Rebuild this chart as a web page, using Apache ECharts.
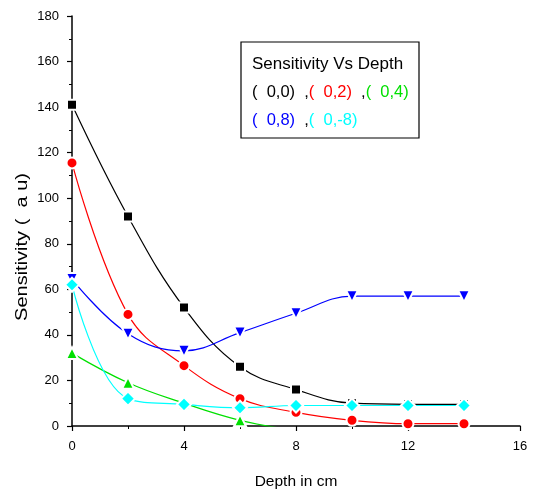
<!DOCTYPE html>
<html><head><meta charset="utf-8">
<script src="https://cdn.jsdelivr.net/npm/echarts@6/dist/echarts.min.js"></script>
<style>html,body{margin:0;padding:0;background:#fff}#c{width:536px;height:490px}</style>
</head><body><div id="c"></div>
<script>
const depth = [0, 2, 4, 6, 8, 10, 12, 14];
const s00 = [141, 92, 52, 26, 16, 10, 9.5, 9.5];
const s02 = [115.5, 49, 26.5, 12, 6, 2.5, 1, 1];
const s04 = [32, 19, 10, 2.5, -2];
const s08 = [64.5, 40.5, 33, 41, 49.5, 57, 57, 57];
const s0m8 = [62, 12, 9.5, 8, 9, 9, 9, 9];
const xTicks = [0, 4, 8, 12, 16];
const yTicks = [0, 20, 40, 60, 80, 100, 120, 140, 160, 180];
const yName = 'Sensitivity (  a u)';
const xName = 'Depth in cm';

const font = 'Liberation Sans, Arial, sans-serif';
function pairs(v){ return v.map((y,i)=>[depth[i], y]); }
const sizes = {rect:10, circle:11, triangle:12, diamond:14};
function ser(name, data, color, symbol, rot){
  return {
    name, type:'line', data: pairs(data), smooth: 0.4, clip: true,
    symbol, symbolSize: sizes[symbol], symbolRotate: rot||0,
    lineStyle:{color, width:1.2},
    itemStyle:{color, borderColor:'#fff', borderWidth:2},
    z: 3
  };
}
const chart = echarts.init(document.getElementById('c'));
chart.setOption({
  animation:false,
  grid:{left:72, right:16, top:16, bottom:64, containLabel:false, outerBoundsMode:'none'},
  xAxis:{type:'value', min:xTicks[0], max:xTicks[xTicks.length-1], interval:4,
    axisLine:{lineStyle:{color:'#000', width:1.5}},
    axisTick:{length:5, lineStyle:{color:'#000', width:1.2}},
    minorTick:{show:true, splitNumber:2, length:3, lineStyle:{color:'#000'}},
    splitLine:{show:false},
    axisLabel:{color:'#000', fontSize:13, fontFamily:font, margin:14},
    name:xName, nameLocation:'middle', nameGap:48,
    nameTextStyle:{color:'#000', fontSize:15.5, fontFamily:font}
  },
  yAxis:{type:'value', min:yTicks[0], max:yTicks[yTicks.length-1], interval:20,
    axisLine:{show:true, lineStyle:{color:'#000', width:1.5}},
    axisTick:{show:true, length:5, lineStyle:{color:'#000', width:1.2}},
    minorTick:{show:true, splitNumber:2, length:3, lineStyle:{color:'#000'}},
    splitLine:{show:false},
    axisLabel:{color:'#000', fontSize:13, fontFamily:font, margin:13}
  },
  series:[
    ser('(0,0)', s00, '#000000', 'rect'),
    ser('(0,2)', s02, '#ff0000', 'circle'),
    ser('(0,4)', s04, '#00e000', 'triangle'),
    ser('(0,8)', s08, '#0000ff', 'triangle', 180),
    ser('(0,-8)', s0m8, '#00ffff', 'diamond')
  ],
  graphic:[
    {type:'text', x:23, y:247, rotation:Math.PI/2, scaleX:1.25, scaleY:1, z:11,
      style:{text:yName, fill:'#000', font:'16px '+font, align:'center', verticalAlign:'middle'}},
    {type:'rect', shape:{x:241, y:42, width:178, height:96}, style:{fill:'#fff', stroke:'#000', lineWidth:1.2}, z:10},
    {type:'text', x:252, y:56, z:11, style:{text:'Sensitivity Vs Depth', fill:'#000', font:'17px '+font}},
    {type:'text', x:252, y:84, z:11, style:{
      text:'{k|(  0,0)}{k|  ,}{r|(  0,2)}{k|  ,}{g|(  0,4)}',
      font:'16.5px '+font,
      rich:{k:{fill:'#000', font:'16.5px '+font}, r:{fill:'#ff0000', font:'16.5px '+font}, g:{fill:'#00e000', font:'16.5px '+font}}
    }},
    {type:'text', x:252, y:112, z:11, style:{
      text:'{b|(  0,8)}{k|  ,}{c|(  0,-8)}',
      font:'16.5px '+font,
      rich:{k:{fill:'#000', font:'16.5px '+font}, b:{fill:'#0000ff', font:'16.5px '+font}, c:{fill:'#00ffff', font:'16.5px '+font}}
    }}
  ]
});
</script></body></html>
